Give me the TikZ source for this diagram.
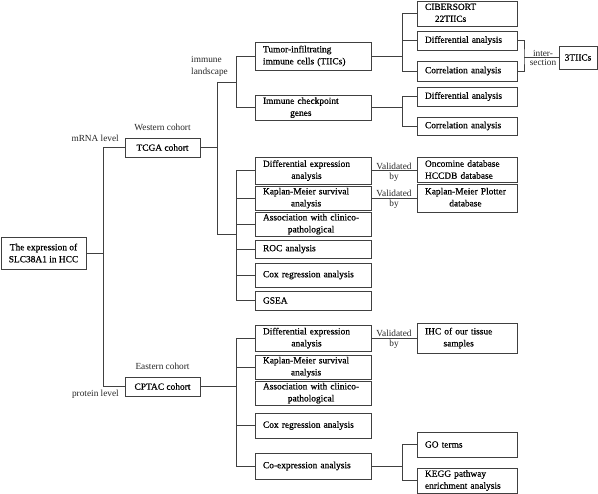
\documentclass[tikz,border=0pt]{standalone}
\usepackage{fontspec}
\setmainfont{Liberation Serif}
\newfontfamily\boxfont{Liberation Serif}[FakeBold=0.6]
\usetikzlibrary{positioning}
\newcommand{\stk}[1]{\begin{tabular}{@{}c@{}}#1\end{tabular}}

\begin{document}
\begin{tikzpicture}[
    x=1pt, y=-1pt,
    box/.style={rectangle, draw=black!75, line width=0.9pt, inner sep=0pt, align=left, font=\boxfont\fontsize{9.4}{12}\selectfont},
    mid/.style={box, minimum width=116pt, text width=100pt},
    rgt/.style={box, minimum width=100pt, text width=84pt},
    lbl/.style={font=\fontsize{9.3}{12}\selectfont, text=black!85, inner sep=0pt},
    link/.style={draw=black!75, line width=0.9pt}
]
\useasboundingbox (0,0) rectangle (598,494);

% root and the two cohorts
\node[box, align=center, minimum width=85pt, minimum height=32pt] (root) at (43.5,253) {The expression of\\SLC38A1 in HCC};
\node[box, align=center, minimum width=75pt, minimum height=19pt] (tcga) at (162.5,147.5) {TCGA cohort};
\node[box, align=center, minimum width=75pt, minimum height=19pt] (cptac) at (162.5,386.5) {CPTAC cohort};

\node[lbl] (west) at (162.5,127) {Western cohort};
\node[lbl] (east) at (162.5,366) {Eastern cohort};
\node[lbl, anchor=east] (mrna) at (119,138) {mRNA level};
\node[lbl, anchor=east] (prot) at (119,394) {protein level};
\node[lbl, anchor=west, align=left] (immune) at (191,66) {immune\\landscape};

% TCGA branch (middle column)
\node[mid, minimum height=28pt] (tiic) at (313,56) {Tumor-infiltrating\\immune cells (TIICs)};
\node[mid, minimum height=25pt] (icg) at (313,107.5) {\stk{Immune checkpoint\\genes}};
\node[mid, minimum height=27pt] (w_dea) at (313,170.5) {\stk{Differential expression\\analysis}};
\node[mid, minimum height=22pt] (w_km) at (313,198) {\stk{Kaplan-Meier survival\\analysis}};
\node[mid, minimum height=24pt] (w_assoc) at (313,224) {\stk{Association with clinico-\\pathological}};
\node[mid, minimum height=18pt] (w_roc) at (313,249) {ROC analysis};
\node[mid, minimum height=24pt] (w_cox) at (313,275) {Cox regression analysis};
\node[mid, minimum height=19pt] (w_gsea) at (313,300.5) {GSEA};

% CPTAC branch (middle column)
\node[mid, minimum height=26pt] (e_dea) at (313,338) {\stk{Differential expression\\analysis}};
\node[mid, minimum height=24pt] (e_km) at (313,367) {\stk{Kaplan-Meier survival\\analysis}};
\node[mid, minimum height=24pt] (e_assoc) at (313,393) {\stk{Association with clinico-\\pathological}};
\node[mid, minimum height=25pt] (e_cox) at (313,425.5) {Cox regression analysis};
\node[mid, minimum height=26pt] (e_coexp) at (313,466) {Co-expression analysis};

% right column
\node[rgt, minimum height=25pt] (cibersort) at (467,13.5) {\stk{CIBERSORT\\22TIICs}};
\node[rgt, minimum height=19pt] (t_diff) at (467,40.5) {Differential analysis};
\node[rgt, minimum height=20pt] (t_corr) at (467,71) {Correlation analysis};
\node[rgt, minimum height=19pt] (c_diff) at (467,96.5) {Differential analysis};
\node[rgt, minimum height=18pt] (c_corr) at (467,126) {Correlation analysis};
\node[rgt, minimum height=25pt] (oncomine) at (467,169.5) {Oncomine database\\HCCDB database};
\node[rgt, minimum height=28pt] (kmplot) at (467,198) {\stk{Kaplan-Meier Plotter\\database}};
\node[rgt, minimum height=30pt] (ihc) at (467,338) {\stk{IHC of our tissue\\samples}};
\node[rgt, minimum height=25pt] (go) at (467,444.5) {GO terms};
\node[rgt, minimum height=25pt] (kegg) at (467,480.5) {KEGG pathway\\enrichment analysis};
\node[box, align=center, minimum width=38pt, minimum height=23pt] (three) at (578,57.5) {3TIICs};

% tree joints
\coordinate (s0) at (103,253);
\coordinate (s1) at (217,147.5);
\coordinate (s1top) at (217,82);
\coordinate (s1bot) at (217,234);
\coordinate (s2) at (236,82);
\coordinate (s3) at (236,234);
\coordinate (s4) at (236,386.5);
\coordinate (s5) at (402,56);
\coordinate (s6) at (402,107.5);
\coordinate (s7) at (402,466);
\coordinate (tjoin) at (524,57.5);

% connectors
\draw[link] (root.east) -- (s0);
\draw[link] (s0) |- (tcga.west);
\draw[link] (s0) |- (cptac.west);

\draw[link] (tcga.east) -- (s1);
\draw[link] (s1top) -- (s1bot);
\draw[link] (s1top) -- (s2);
\draw[link] (s2) |- (tiic.west);
\draw[link] (s2) |- (icg.west);
\draw[link] (s1bot) -- (s3);
\foreach \n in {w_dea,w_km,w_assoc,w_roc,w_cox,w_gsea}
    \draw[link] (s3) |- (\n.west);

\draw[link] (cptac.east) -- (s4);
\foreach \n in {e_dea,e_km,e_cox,e_coexp}
    \draw[link] (s4) |- (\n.west);

\draw[link] (tiic.east) -- (s5);
\foreach \n in {cibersort,t_diff,t_corr}
    \draw[link] (s5) |- (\n.west);
\draw[link] (icg.east) -- (s6);
\draw[link] (s6) |- (c_diff.west);
\draw[link] (s6) |- (c_corr.west);
\draw[link] (e_coexp.east) -- (s7);
\draw[link] (s7) |- (go.west);
\draw[link] (s7) |- (kegg.west);

% validation links
\draw[link] (w_dea.east) -- node[lbl, above=0.5pt] {Validated} node[lbl, below=2pt] {by} (w_dea.east -| oncomine.west);
\draw[link] (w_km.east) -- node[lbl, above=0.5pt] {Validated} node[lbl, below=2pt] {by} (w_km.east -| kmplot.west);
\draw[link] (e_dea.east) -- node[lbl, above=0.5pt] {Validated} node[lbl, below=2pt] {by} (e_dea.east -| ihc.west);

% intersection bracket
\draw[link] (t_diff.east) -| (tjoin) |- (t_corr.east);
\draw[link] (tjoin) -- node[lbl, above=0.5pt, pos=0.55] {inter-} node[lbl, below=1pt, pos=0.55] {section} (three.west);

\end{tikzpicture}
\end{document}
